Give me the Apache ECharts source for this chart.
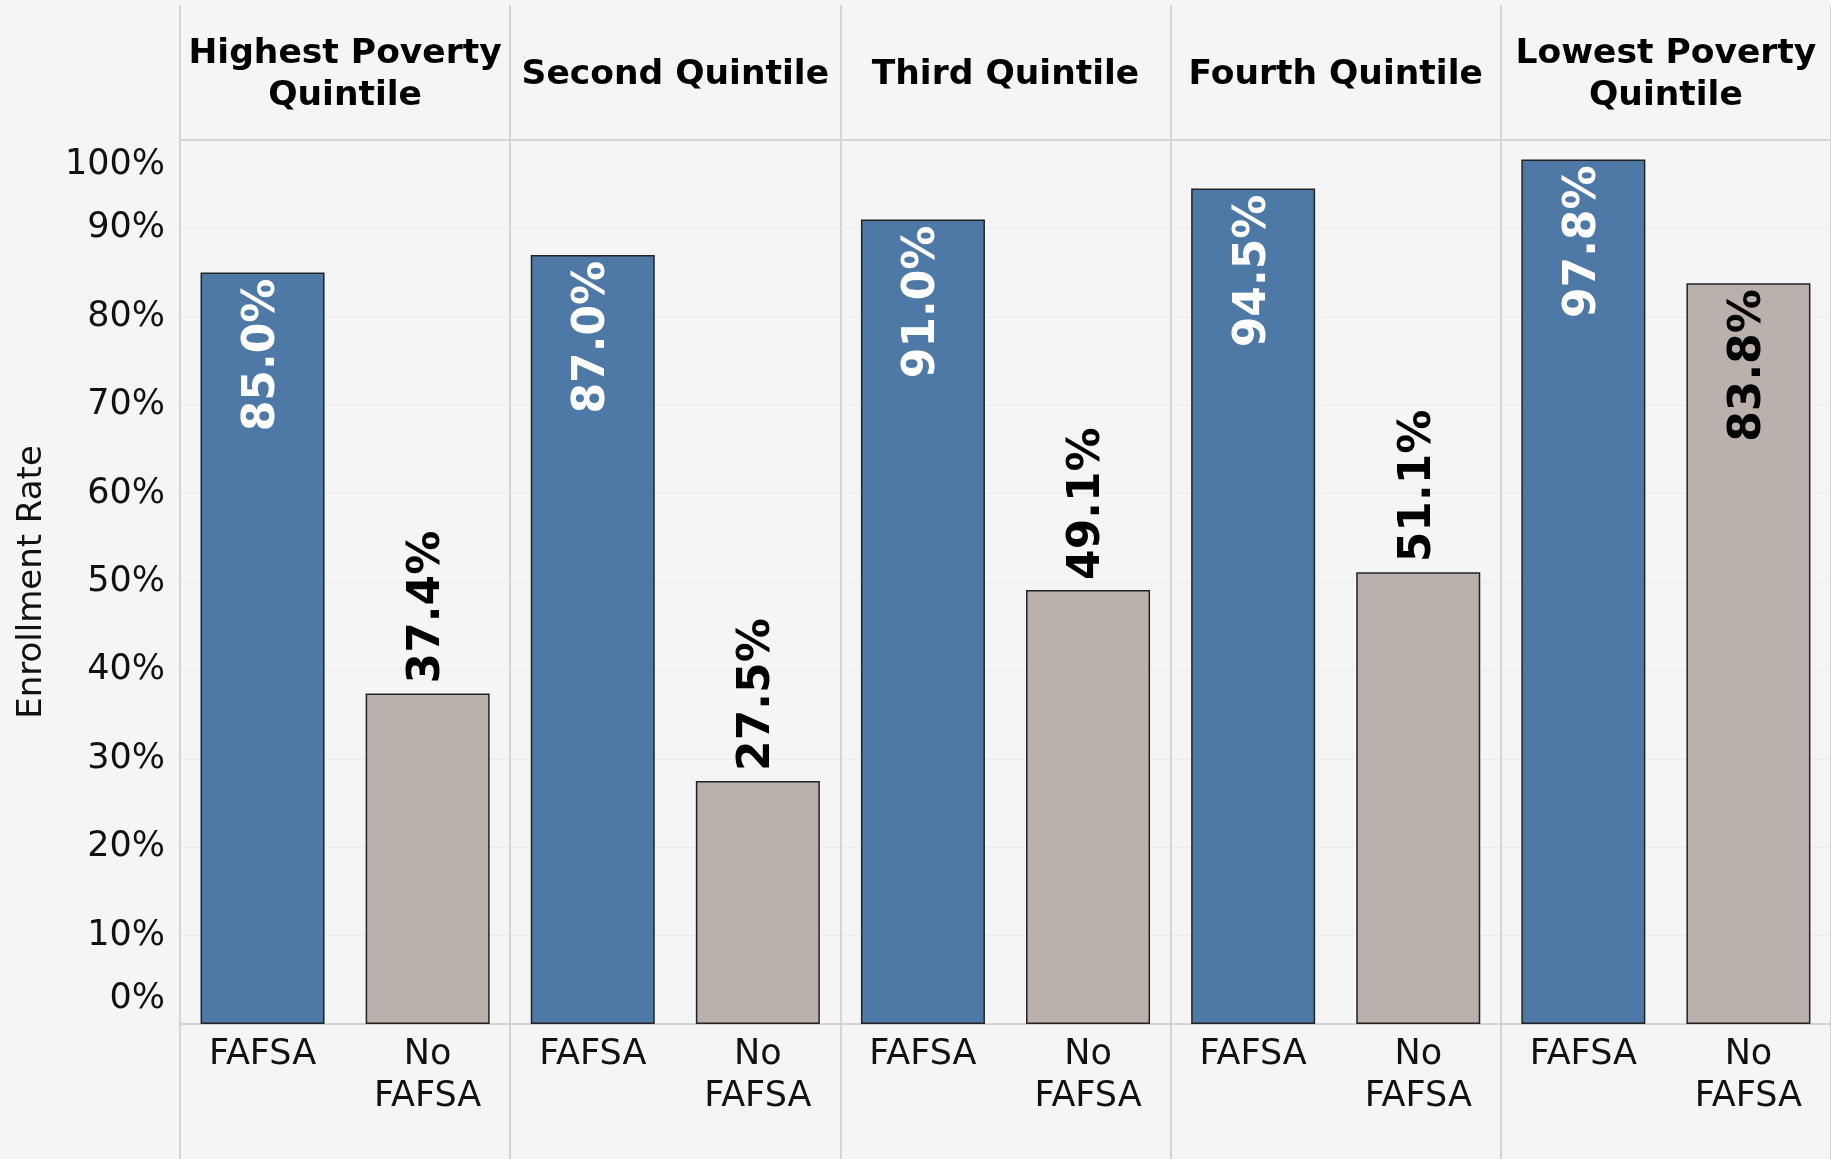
<html lang="en">
  <head>
    <meta charset="UTF-8" />
    <title>Enrollment Rate by FAFSA and Poverty Quintile</title>
    <style>
      body { margin: 0; background: #f5f5f5; }
    </style>
  </head>
  <body>
    <div id="main" style="width: 1831px; height: 1159px"></div>

    <script src="https://cdnjs.cloudflare.com/ajax/libs/echarts/6.0.0/echarts.min.js"></script>
    <script>
      // data
      const quintiles = ['Highest Poverty\nQuintile', 'Second Quintile', 'Third Quintile', 'Fourth Quintile', 'Lowest Poverty\nQuintile']
      const groups = ['FAFSA', 'No\nFAFSA']
      const fafsa = [85.0, 87.0, 91.0, 94.5, 97.8]
      const noFafsa = [37.4, 27.5, 49.1, 51.1, 83.8]

      const BLUE = '#4e79a7'
      const GRAY = '#bab0ac'
      const LINE = '#d4d4d4'
      const FONT = 'DejaVu Sans'

      let mCharts = echarts.init(document.querySelector('#main'))

      const insideLabel = color => ({
        show: true,
        position: 'insideTop',
        distance: 6,
        rotate: 90,
        align: 'right',
        verticalAlign: 'middle',
        color: color
      })
      const topLabel = {
        show: true,
        position: 'top',
        distance: 10,
        rotate: 90,
        align: 'left',
        verticalAlign: 'middle',
        color: '#000'
      }

      // one category per bar: FAFSA / No FAFSA inside every quintile
      let barCats = []
      let barData = []
      quintiles.forEach((q, i) => {
        barCats.push(groups[0], groups[1])
        barData.push({ value: fafsa[i], itemStyle: { color: BLUE }, label: insideLabel('#fff') })
        // not enough room above the tallest grey bar, so the label goes inside
        barData.push({
          value: noFafsa[i],
          itemStyle: { color: GRAY },
          label: noFafsa[i] > 75 ? insideLabel('#000') : topLabel
        })
      })

      let option = {
        backgroundColor: '#f5f5f5',
        textStyle: { fontFamily: FONT },
        grid: { left: 180, right: 0, top: 140, bottom: 135 },
        xAxis: [
          {
            type: 'category',
            data: barCats,
            position: 'bottom',
            axisLine: { lineStyle: { color: LINE, width: 2 } },
            axisTick: { show: false },
            axisLabel: {
              interval: 0,
              fontSize: 35,
              lineHeight: 42,
              margin: 10,
              color: '#111',
              fontFamily: FONT
            }
          },
          {
            // quintile headers and pane dividers
            type: 'category',
            data: quintiles,
            position: 'top',
            axisLine: { lineStyle: { color: LINE, width: 2 } },
            axisTick: { show: true, length: 135, lineStyle: { color: LINE, width: 2 } },
            splitLine: { show: true, lineStyle: { color: LINE, width: 2 } },
            axisLabel: {
              interval: 0,
              fontSize: 34.5,
              fontWeight: 'bold',
              lineHeight: 42,
              verticalAlign: 'middle',
              margin: 65,
              color: '#000',
              fontFamily: FONT
            }
          },
          {
            // dividers continuing below the bottom axis
            type: 'category',
            data: quintiles,
            position: 'bottom',
            axisLine: { show: false },
            axisTick: { show: true, length: 135, lineStyle: { color: LINE, width: 2 } },
            axisLabel: { show: false }
          }
        ],
        yAxis: {
          type: 'value',
          min: 0,
          max: 100,
          interval: 10,
          name: 'Enrollment Rate',
          nameLocation: 'middle',
          nameRotate: 90,
          nameGap: 131,
          nameTextStyle: { fontSize: 34, color: '#111', fontFamily: FONT },
          axisLine: { show: true, lineStyle: { color: LINE, width: 2 } },
          axisTick: { show: false },
          splitLine: { lineStyle: { color: '#ebebeb', width: 1 } },
          axisLabel: {
            fontSize: 35,
            lineHeight: 50,
            margin: 15,
            color: '#111',
            fontFamily: FONT,
            // keep the end labels inside the pane, like the original
            formatter(v) {
              if (v === 100) return ' \n100%'
              if (v === 0) return '0%\n '
              return v + '%'
            }
          }
        },
        series: [
          {
            type: 'bar',
            xAxisIndex: 0,
            data: barData,
            barWidth: 124,
            itemStyle: { borderColor: '#222', borderWidth: 1.5 },
            label: {
              fontSize: 44,
              fontWeight: 'bold',
              fontFamily: FONT,
              formatter: p => p.value.toFixed(1) + '%'
            }
          }
        ]
      }
      mCharts.setOption(option)
    </script>
  </body>
</html>
